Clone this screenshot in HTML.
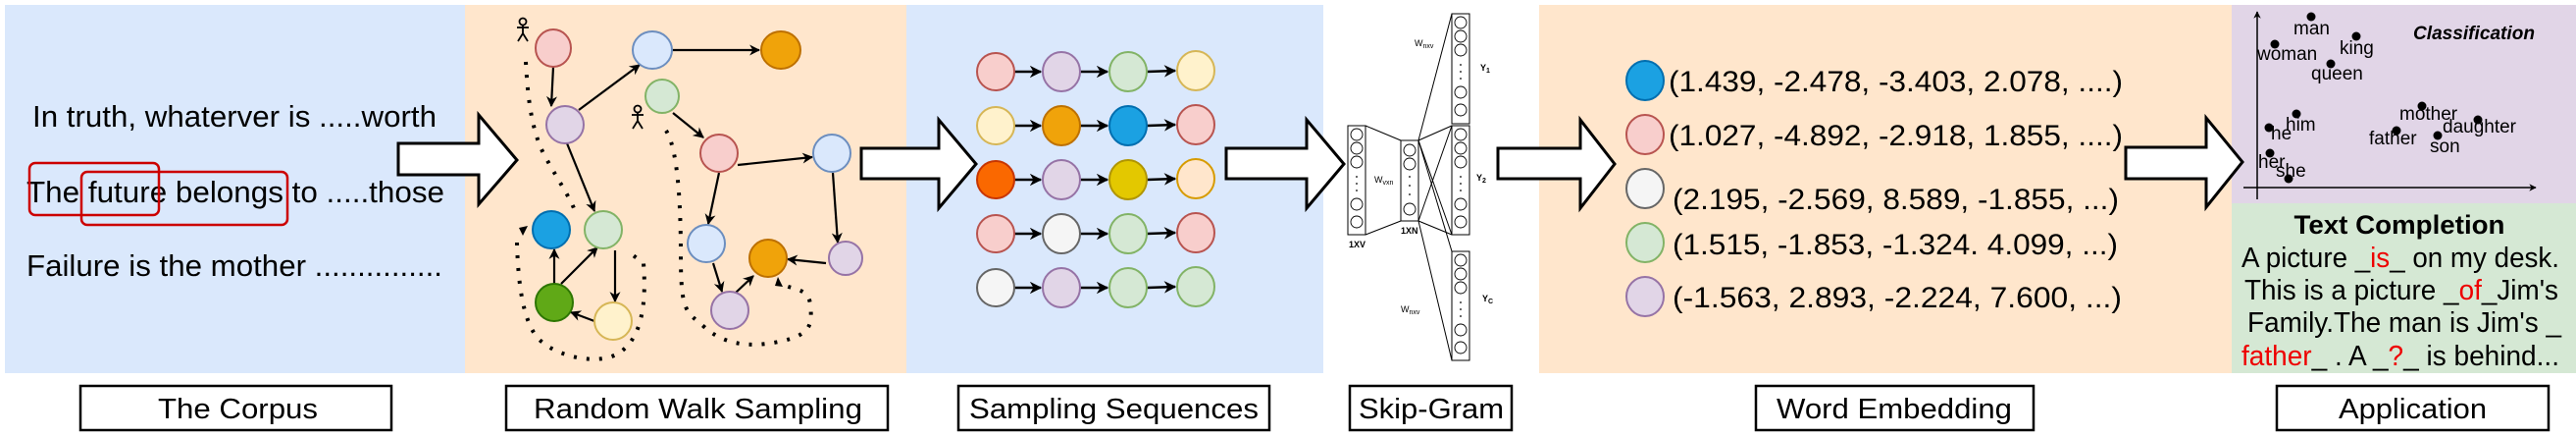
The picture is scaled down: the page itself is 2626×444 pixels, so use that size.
<!DOCTYPE html>
<html><head><meta charset="utf-8"><style>
html,body{margin:0;padding:0;background:#fff;}
svg{display:block;}
text{font-family:"Liberation Sans",sans-serif;}
</style></head><body>
<svg width="2626" height="444" viewBox="0 0 2626 444" xmlns="http://www.w3.org/2000/svg">
<defs>
<marker id="ah" viewBox="0 0 10 10" refX="9" refY="5" markerWidth="5" markerHeight="5" orient="auto"><path d="M0,0 L10,5 L0,10 L3,5 Z" fill="#000"/></marker>
</defs>
<rect x="5" y="5" width="469" height="375" fill="#dae8fc"/>
<rect x="474" y="5" width="450" height="375" fill="#ffe6cc"/>
<rect x="924" y="5" width="425" height="375" fill="#dae8fc"/>
<rect x="1569" y="5" width="706" height="375" fill="#ffe6cc"/>
<rect x="2275" y="5" width="351" height="202" fill="#e1d5e7"/>
<rect x="2275" y="207" width="351" height="173" fill="#d5e8d4"/>

<g font-size="31" fill="#000">
<text x="33" y="129" textLength="412" lengthAdjust="spacingAndGlyphs">In truth, whaterver is .....worth</text>
<text x="27" y="206" textLength="426" lengthAdjust="spacingAndGlyphs">The future belongs to .....those</text>
<text x="27" y="281" textLength="424" lengthAdjust="spacingAndGlyphs">Failure is the mother ...............</text>
</g>
<rect x="30" y="166" width="132" height="53" rx="6" fill="none" stroke="#cc0000" stroke-width="2.5"/>
<rect x="83" y="175" width="210" height="54" rx="6" fill="none" stroke="#cc0000" stroke-width="2.5"/>

<g fill="#fff" stroke="#000" stroke-width="3">
<polygon points="406,146 488,146 488,117 527,163 488,208 488,178 406,178"/>
<polygon points="878,151 957,151 957,122 995,167 957,212 957,182 878,182"/>
<polygon points="1250,151 1332,151 1332,122 1370,167 1332,212 1332,182 1250,182"/>
<polygon points="1527,151 1611,151 1611,122 1646,167 1611,212 1611,182 1527,182"/>
<polygon points="2167,150 2249,150 2249,120 2286,165 2249,211 2249,182 2167,182"/>
</g>

<g stroke="#000" stroke-width="2.2" fill="none" marker-end="url(#ah)">
<line x1="564" y1="68" x2="562" y2="108"/>
<line x1="590" y1="112" x2="652" y2="66"/>
<line x1="685" y1="51" x2="774" y2="51"/>
<line x1="578" y1="146" x2="606" y2="215"/>
<line x1="627" y1="255" x2="627" y2="307"/>
<line x1="606" y1="327" x2="582" y2="318"/>
<line x1="572" y1="289" x2="609" y2="252"/>
<line x1="565" y1="289" x2="565" y2="254"/>
<line x1="686" y1="115" x2="717" y2="140"/>
<line x1="752" y1="168" x2="828" y2="160"/>
<line x1="733" y1="176" x2="722" y2="228"/>
<line x1="849" y1="176" x2="854" y2="247"/>
<line x1="842" y1="268" x2="803" y2="264"/>
<line x1="727" y1="268" x2="736" y2="297"/>
<line x1="750" y1="298" x2="768" y2="281"/>
</g>
<g stroke="#000" stroke-width="4" fill="none" stroke-dasharray="3 10">
<path d="M536,63 C538,100 542,135 556,160 S580,200 585,212"/>
<path d="M527,247 C528,283 532,330 551,347 S610,372 630,360 S660,320 656,268 L640,256"/>
<path d="M679,133 C690,150 694,200 694,260 S700,317 718,333 S760,355 794,348 S828,330 826,310 S800,296 797,287"/>
</g>
<polygon points="529,232 538,230 533,240" fill="#000"/>
<polygon points="793,282 798,292 790,291" fill="#000"/>
<g stroke="#000" stroke-width="1.8" fill="none">
<circle cx="533" cy="22" r="3.5"/><line x1="533" y1="25" x2="533" y2="34"/><line x1="527" y1="28" x2="539" y2="28"/><line x1="533" y1="34" x2="528" y2="42"/><line x1="533" y1="34" x2="538" y2="42"/>
<circle cx="650" cy="111" r="3.5"/><line x1="650" y1="114" x2="650" y2="123"/><line x1="644" y1="117" x2="656" y2="117"/><line x1="650" y1="123" x2="645" y2="131"/><line x1="650" y1="123" x2="655" y2="131"/>
</g>
<g stroke-width="2">
<ellipse cx="564" cy="49" rx="18" ry="19" fill="#f8cecc" stroke="#b85450"/>
<ellipse cx="665" cy="51" rx="20" ry="19" fill="#dae8fc" stroke="#6c8ebf"/>
<ellipse cx="796" cy="51" rx="20" ry="19" fill="#f0a30a" stroke="#BD7000"/>
<ellipse cx="675" cy="98" rx="17" ry="17" fill="#d5e8d4" stroke="#82b366"/>
<ellipse cx="576" cy="127" rx="19" ry="19" fill="#e1d5e7" stroke="#9673a6"/>
<ellipse cx="733" cy="156" rx="19" ry="19" fill="#f8cecc" stroke="#b85450"/>
<ellipse cx="848" cy="156" rx="19" ry="19" fill="#dae8fc" stroke="#6c8ebf"/>
<ellipse cx="562" cy="234" rx="19" ry="19" fill="#1ba1e2" stroke="#006EAF"/>
<ellipse cx="615" cy="234" rx="19" ry="19" fill="#d5e8d4" stroke="#82b366"/>
<ellipse cx="720" cy="248" rx="19" ry="19" fill="#dae8fc" stroke="#6c8ebf"/>
<ellipse cx="783" cy="263" rx="19" ry="19" fill="#f0a30a" stroke="#BD7000"/>
<ellipse cx="862" cy="263" rx="17" ry="17" fill="#e1d5e7" stroke="#9673a6"/>
<ellipse cx="565" cy="308" rx="19" ry="19" fill="#60a917" stroke="#2D7600"/>
<ellipse cx="625" cy="327" rx="19" ry="19" fill="#fff2cc" stroke="#d6b656"/>
<ellipse cx="744" cy="316" rx="19" ry="19" fill="#e1d5e7" stroke="#9673a6"/>
</g>

<g stroke="#000" stroke-width="2.5" marker-end="url(#ah)">
<line x1="1034" y1="73" x2="1061" y2="73"/><line x1="1101" y1="73" x2="1129" y2="73"/><line x1="1169" y1="73" x2="1198" y2="72"/>
<line x1="1034" y1="128" x2="1061" y2="128"/><line x1="1101" y1="128" x2="1129" y2="128"/><line x1="1169" y1="128" x2="1198" y2="127"/>
<line x1="1034" y1="183" x2="1061" y2="183"/><line x1="1101" y1="183" x2="1129" y2="183"/><line x1="1169" y1="183" x2="1198" y2="182"/>
<line x1="1034" y1="238" x2="1061" y2="238"/><line x1="1101" y1="238" x2="1129" y2="238"/><line x1="1169" y1="238" x2="1198" y2="237"/>
<line x1="1034" y1="293" x2="1061" y2="293"/><line x1="1101" y1="293" x2="1129" y2="293"/><line x1="1169" y1="293" x2="1198" y2="292"/>
</g>
<g stroke-width="2">
<ellipse cx="1015" cy="73" rx="19" ry="19" fill="#f8cecc" stroke="#b85450"/>
<ellipse cx="1082" cy="73" rx="19" ry="20" fill="#e1d5e7" stroke="#9673a6"/>
<ellipse cx="1150" cy="73" rx="19" ry="20" fill="#d5e8d4" stroke="#82b366"/>
<ellipse cx="1219" cy="72" rx="19" ry="20" fill="#fff2cc" stroke="#d6b656"/>
<ellipse cx="1015" cy="128" rx="19" ry="19" fill="#fff2cc" stroke="#d6b656"/>
<ellipse cx="1082" cy="128" rx="19" ry="20" fill="#f0a30a" stroke="#BD7000"/>
<ellipse cx="1150" cy="128" rx="19" ry="20" fill="#1ba1e2" stroke="#006EAF"/>
<ellipse cx="1219" cy="127" rx="19" ry="20" fill="#f8cecc" stroke="#b85450"/>
<ellipse cx="1015" cy="183" rx="19" ry="19" fill="#fa6800" stroke="#C73500"/>
<ellipse cx="1082" cy="183" rx="19" ry="20" fill="#e1d5e7" stroke="#9673a6"/>
<ellipse cx="1150" cy="183" rx="19" ry="20" fill="#e3c800" stroke="#B09500"/>
<ellipse cx="1219" cy="182" rx="19" ry="20" fill="#ffe6cc" stroke="#d79b00"/>
<ellipse cx="1015" cy="238" rx="19" ry="19" fill="#f8cecc" stroke="#b85450"/>
<ellipse cx="1082" cy="238" rx="19" ry="20" fill="#f5f5f5" stroke="#666666"/>
<ellipse cx="1150" cy="238" rx="19" ry="20" fill="#d5e8d4" stroke="#82b366"/>
<ellipse cx="1219" cy="237" rx="19" ry="20" fill="#f8cecc" stroke="#b85450"/>
<ellipse cx="1015" cy="293" rx="19" ry="19" fill="#f5f5f5" stroke="#666666"/>
<ellipse cx="1082" cy="293" rx="19" ry="20" fill="#e1d5e7" stroke="#9673a6"/>
<ellipse cx="1150" cy="293" rx="19" ry="20" fill="#d5e8d4" stroke="#82b366"/>
<ellipse cx="1219" cy="292" rx="19" ry="20" fill="#d5e8d4" stroke="#82b366"/>
</g>

<g stroke="#000" stroke-width="1" fill="none">
<line x1="1392" y1="128" x2="1428" y2="143"/><line x1="1392" y1="239" x2="1428" y2="225"/>
<line x1="1446" y1="143" x2="1480" y2="14"/><line x1="1446" y1="143" x2="1480" y2="128"/><line x1="1446" y1="143" x2="1480" y2="239"/><line x1="1446" y1="143" x2="1480" y2="256"/>
<line x1="1446" y1="225" x2="1480" y2="128"/><line x1="1446" y1="225" x2="1480" y2="239"/><line x1="1446" y1="225" x2="1480" y2="367"/>
<rect x="1374" y="128" width="18" height="111" fill="#fff"/>
<rect x="1428" y="143" width="18" height="82" fill="#fff"/>
<rect x="1480" y="14" width="18" height="112" fill="#fff"/>
<rect x="1480" y="128" width="18" height="111" fill="#fff"/>
<rect x="1480" y="256" width="18" height="111" fill="#fff"/>
<g stroke-width="0.9">
<circle cx="1383" cy="137" r="6"/><circle cx="1383" cy="151" r="6"/><circle cx="1383" cy="165" r="6"/><circle cx="1383" cy="208" r="6"/><circle cx="1383" cy="226" r="6"/>
<circle cx="1437" cy="153" r="6"/><circle cx="1437" cy="167" r="6"/><circle cx="1437" cy="213" r="6"/>
<circle cx="1489" cy="23" r="6"/><circle cx="1489" cy="37" r="6"/><circle cx="1489" cy="51" r="6"/><circle cx="1489" cy="94" r="6"/><circle cx="1489" cy="112" r="6"/>
<circle cx="1489" cy="137" r="6"/><circle cx="1489" cy="151" r="6"/><circle cx="1489" cy="165" r="6"/><circle cx="1489" cy="208" r="6"/><circle cx="1489" cy="226" r="6"/>
<circle cx="1489" cy="265" r="6"/><circle cx="1489" cy="279" r="6"/><circle cx="1489" cy="293" r="6"/><circle cx="1489" cy="336" r="6"/><circle cx="1489" cy="354" r="6"/>
</g>
</g>
<g fill="#000">
<circle cx="1383" cy="180" r="0.9"/><circle cx="1383" cy="187" r="0.9"/><circle cx="1383" cy="194" r="0.9"/>
<circle cx="1437" cy="180" r="0.9"/><circle cx="1437" cy="189" r="0.9"/><circle cx="1437" cy="198" r="0.9"/>
<circle cx="1489" cy="66" r="0.9"/><circle cx="1489" cy="73" r="0.9"/><circle cx="1489" cy="80" r="0.9"/>
<circle cx="1489" cy="180" r="0.9"/><circle cx="1489" cy="187" r="0.9"/><circle cx="1489" cy="194" r="0.9"/>
<circle cx="1489" cy="308" r="0.9"/><circle cx="1489" cy="315" r="0.9"/><circle cx="1489" cy="322" r="0.9"/>
</g>
<g font-size="9" fill="#000">
<text x="1442" y="47">W<tspan font-size="7" dy="2">nxv</tspan></text>
<text x="1401" y="186">W<tspan font-size="7" dy="2">vxn</tspan></text>
<text x="1428" y="318">W<tspan font-size="7" dy="2">nxv</tspan></text>
<text x="1509" y="72" font-weight="bold">Y<tspan font-size="7" dy="2">1</tspan></text>
<text x="1505" y="184" font-weight="bold">Y<tspan font-size="7" dy="2">2</tspan></text>
<text x="1511" y="307" font-weight="bold">Y<tspan font-size="7" dy="2">C</tspan></text>
<text x="1375" y="252" font-weight="bold">1XV</text>
<text x="1428" y="238" font-weight="bold">1XN</text>
</g>

<g stroke-width="2">
<ellipse cx="1677" cy="82" rx="19" ry="20" fill="#1ba1e2" stroke="#006EAF"/>
<ellipse cx="1677" cy="137" rx="19" ry="20" fill="#f8cecc" stroke="#b85450"/>
<ellipse cx="1677" cy="192" rx="19" ry="20" fill="#f5f5f5" stroke="#666666"/>
<ellipse cx="1677" cy="247" rx="19" ry="20" fill="#d5e8d4" stroke="#82b366"/>
<ellipse cx="1677" cy="302" rx="19" ry="20" fill="#e1d5e7" stroke="#9673a6"/>
</g>
<g font-size="30" fill="#000">
<text x="1701" y="93" textLength="463" lengthAdjust="spacingAndGlyphs">(1.439, -2.478, -3.403, 2.078, ....)</text>
<text x="1701" y="148" textLength="463" lengthAdjust="spacingAndGlyphs">(1.027, -4.892, -2.918, 1.855, ....)</text>
<text x="1705" y="213" textLength="455" lengthAdjust="spacingAndGlyphs">(2.195, -2.569, 8.589, -1.855, ...)</text>
<text x="1705" y="259" textLength="454" lengthAdjust="spacingAndGlyphs">(1.515, -1.853, -1.324. 4.099, ...)</text>
<text x="1705" y="313" textLength="458" lengthAdjust="spacingAndGlyphs">(-1.563, 2.893, -2.224, 7.600, ...)</text>
</g>

<g stroke="#000" stroke-width="1.5" fill="none">
<line x1="2301" y1="203" x2="2301" y2="12" marker-end="url(#ah)"/>
<line x1="2287" y1="191" x2="2585" y2="191" marker-end="url(#ah)"/>
</g>
<g fill="#000">
<circle cx="2356" cy="17" r="4.5"/><circle cx="2319" cy="45" r="4.5"/><circle cx="2402" cy="37" r="4.5"/><circle cx="2376" cy="65" r="4.5"/>
<circle cx="2469" cy="108" r="4.5"/><circle cx="2526" cy="122" r="4.5"/><circle cx="2443" cy="133" r="4.5"/><circle cx="2485" cy="138" r="4.5"/>
<circle cx="2341" cy="116" r="4.5"/><circle cx="2313" cy="130" r="4.5"/><circle cx="2314" cy="156" r="4.5"/><circle cx="2333" cy="182" r="4.5"/>
</g>
<g font-size="19" fill="#000">
<text x="2338" y="35">man</text>
<text x="2301" y="61">woman</text>
<text x="2385" y="55">king</text>
<text x="2356" y="81">queen</text>
<text x="2446" y="122">mother</text>
<text x="2490" y="135">daughter</text>
<text x="2415" y="147">father</text>
<text x="2477" y="155">son</text>
<text x="2330" y="133">him</text>
<text x="2315" y="142">he</text>
<text x="2302" y="171">her</text>
<text x="2320" y="180">she</text>
</g>
<text x="2460" y="40" font-size="19" font-weight="bold" font-style="italic" textLength="124" lengthAdjust="spacingAndGlyphs">Classification</text>

<text x="2446" y="238" font-size="27" font-weight="bold" text-anchor="middle" textLength="215" lengthAdjust="spacingAndGlyphs">Text Completion</text>
<g font-size="29" fill="#000">
<text x="2285" y="272" textLength="324" lengthAdjust="spacingAndGlyphs">A picture _<tspan fill="#e00">is</tspan>_ on my desk.</text>
<text x="2288" y="305" textLength="320" lengthAdjust="spacingAndGlyphs">This is a picture _<tspan fill="#e00">of</tspan>_Jim's</text>
<text x="2291" y="338" textLength="320" lengthAdjust="spacingAndGlyphs">Family.The man is Jim's _</text>
<text x="2285" y="372" textLength="324" lengthAdjust="spacingAndGlyphs"><tspan fill="#e00">father</tspan>_ . A _<tspan fill="#e00">?</tspan>_ is behind...</text>
</g>

<g fill="#fff" stroke="#000" stroke-width="2.5">
<rect x="82" y="393" width="317" height="45"/>
<rect x="516" y="393" width="389" height="45"/>
<rect x="977" y="393" width="317" height="45"/>
<rect x="1376" y="393" width="165" height="45"/>
<rect x="1790" y="393" width="283" height="45"/>
<rect x="2321" y="393" width="277" height="45"/>
</g>
<g font-size="29" fill="#000">
<text x="161" y="426" textLength="163" lengthAdjust="spacingAndGlyphs">The Corpus</text>
<text x="544" y="426" textLength="335" lengthAdjust="spacingAndGlyphs">Random Walk Sampling</text>
<text x="988" y="426" textLength="295" lengthAdjust="spacingAndGlyphs">Sampling Sequences</text>
<text x="1385" y="426" textLength="148" lengthAdjust="spacingAndGlyphs">Skip-Gram</text>
<text x="1811" y="426" textLength="240" lengthAdjust="spacingAndGlyphs">Word Embedding</text>
<text x="2384" y="426" textLength="151" lengthAdjust="spacingAndGlyphs">Application</text>
</g>
</svg>
</body></html>
